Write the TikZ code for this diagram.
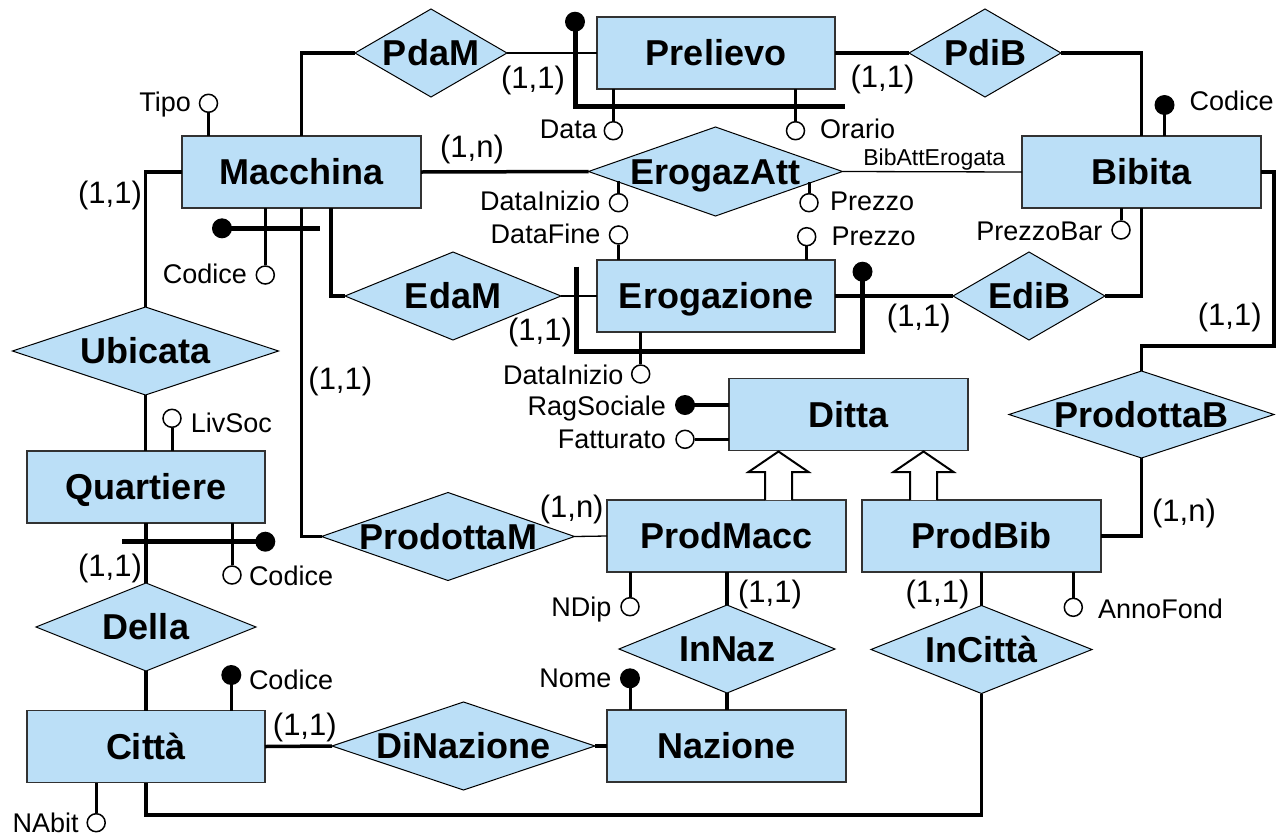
\documentclass[tikz,border=0pt]{standalone}
\usepackage{fontspec}
\setmainfont{Liberation Sans}
\usetikzlibrary{shapes.geometric}
\definecolor{erblue}{RGB}{187,223,247}
\definecolor{edgegray}{RGB}{50,50,50}
\newcommand\ctext[1]{\smash{\makebox[0pt]{\raisebox{-0.358em}{#1}}}}
\begin{document}
\begin{tikzpicture}[x=1pt,y=-1pt,
  ent/.style={rectangle,draw=edgegray,line width=1.5pt,fill=erblue,minimum width=238pt,minimum height=72pt,inner sep=0pt,outer sep=0pt,font=\fontsize{36}{40}\selectfont\bfseries},
  rel/.style={diamond,draw=black,line width=1pt,fill=erblue,inner sep=0pt,outer sep=0pt,font=\fontsize{36}{40}\selectfont\bfseries},
  conn/.style={line width=3.5pt},
  thinc/.style={line width=1.3pt},
  stem/.style={line width=3pt},
  idbar/.style={line width=5pt,line join=miter},
  acirc/.style={circle,draw=black,line width=1.5pt,fill=white,minimum size=18pt,inner sep=0pt},
  kdot/.style={circle,fill=black,minimum size=20pt,inner sep=0pt},
  att/.style={inner sep=0pt,font=\fontsize{27}{30}\selectfont},
  card/.style={inner sep=0pt,font=\fontsize{31}{34}\selectfont},
  isa/.style={draw=black,line width=2pt,fill=white,line join=miter}]
\useasboundingbox (0,0) rectangle (1288,836);

% ---------- entities ----------
\node[ent] (Prelievo) at (716,53) {\ctext{Prelievo}};
\node[ent,minimum width=239pt] (Macchina) at (301.5,172) {\ctext{Macchina}};
\node[ent,minimum width=239pt] (Bibita) at (1141.5,172) {\ctext{Bibita}};
\node[ent] (Erogazione) at (716,296) {\ctext{Erogazione}};
\node[ent,minimum width=239pt] (Ditta) at (848.5,414.5) {\ctext{Ditta}};
\node[ent] (Quartiere) at (146,487) {\ctext{Quartiere}};
\node[ent,minimum width=239pt] (ProdMacc) at (726.5,536) {\ctext{ProdMacc}};
\node[ent,minimum width=239pt] (ProdBib) at (981.5,536) {\ctext{ProdBib}};
\node[ent] (Citta) at (146,746.5) {\ctext{Città}};
\node[ent,minimum width=239pt] (Nazione) at (726.5,746) {\ctext{Nazione}};

% ---------- relationships ----------
\node[rel,minimum width=152pt,minimum height=88pt] (PdaM) at (431,53) {\ctext{PdaM}};
\node[rel,minimum width=152pt,minimum height=88pt] (PdiB) at (985,53) {\ctext{PdiB}};
\node[rel,minimum width=254pt,minimum height=89pt] (ErogazAtt) at (715.5,171.5) {\ctext{ErogazAtt}};
\node[rel,minimum width=216pt,minimum height=88pt] (EdaM) at (453,296) {\ctext{EdaM}};
\node[rel,minimum width=152pt,minimum height=88pt] (EdiB) at (1029,296) {\ctext{EdiB}};
\node[rel,minimum width=266pt,minimum height=88pt] (Ubicata) at (145.5,351) {\ctext{Ubicata}};
\node[rel,minimum width=265pt,minimum height=87pt] (ProdottaB) at (1141.5,414.5) {\ctext{ProdottaB}};
\node[rel,minimum width=253pt,minimum height=88pt] (ProdottaM) at (448,536.5) {\ctext{ProdottaM}};
\node[rel,minimum width=220pt,minimum height=88pt] (Della) at (146,627) {\ctext{Della}};
\node[rel,minimum width=216pt,minimum height=88pt] (InNaz) at (727,649) {\ctext{InNaz}};
\node[rel,minimum width=221pt,minimum height=88pt] (InCitta) at (981.5,649.5) {\ctext{InCittà}};
\node[rel,minimum width=263pt,minimum height=88pt] (DiNazione) at (463.5,746) {\ctext{DiNazione}};

% ---------- connectors ----------
\draw[conn] (Macchina.north) |- (PdaM.west);
\draw[thinc] (PdaM.east) -- (Prelievo.west);
\draw[conn] (Prelievo.east) -- (PdiB.west);
\draw[conn] (PdiB.east) -| (Bibita.north);
\draw[conn] (Macchina.east) -- (ErogazAtt.west);
\draw[thinc] (ErogazAtt.east) -- (Bibita.west);
\draw[conn] ([xshift=29.5pt]Macchina.south) |- (EdaM.west);
\draw[thinc] (EdaM.east) -- (Erogazione.west);
\draw[conn] (Erogazione.east) -- (EdiB.west);
\draw[conn] (EdiB.east) -| (Bibita.south);
\coordinate (bbR) at (1274,346);
\draw[conn] (Bibita.east) -| (bbR) -| (ProdottaB.north);
\draw[conn] (ProdottaB.south) |- (ProdBib.east);
\draw[conn] (Macchina.south) |- (ProdottaM.west);
\draw[thinc] (ProdottaM.east) -- (ProdMacc.west);
\draw[conn] (Macchina.west) -| (Ubicata.north);
\draw[conn] (Ubicata.south) -- (Ubicata.south |- Quartiere.north);
\draw[conn] (Quartiere.south) -- (Della.north);
\draw[conn] (Della.south) -- (Citta.north);
\draw[conn] (Citta.east) -- (DiNazione.west);
\draw[conn] (DiNazione.east) -- (Nazione.west);
\draw[conn] (ProdMacc.south -| InNaz.north) -- (InNaz.north);
\draw[conn] (InNaz.south) -- (InNaz.south |- Nazione.north);
\draw[conn] (ProdBib.south -| InCitta.north) -- (InCitta.north);
\coordinate (loopR) at (981.5,815);
\draw[conn] (InCitta.south) -- (loopR) -| (Citta.south);

% ---------- generalisations ----------
\foreach \cx in {778.5,923.5}{
  \draw[isa] ({\cx-13.5},500) -- ({\cx-13.5},472) -- ({\cx-30},472) -- (\cx,451.5)
     -- ({\cx+30},472) -- ({\cx+13.5},472) -- ({\cx+13.5},500);
}

% ---------- identifiers ----------
\node[kdot] (prelK) at (575,21.7) {};
\coordinate (prelB) at (575,106);
\coordinate (prelE) at (845,106);
\draw[idbar] (prelK.center) -- (prelB) -- (prelE);

\node[kdot] (macK) at (222,228.3) {};
\coordinate (macE) at (320,228.3);
\draw[idbar] (macK.center) -- (macE);

\node[kdot] (eroK) at (862.5,271.7) {};
\coordinate (eroA) at (576.5,266.5);
\coordinate (eroB) at (576.5,351.5);
\coordinate (eroC) at (862.5,351.5);
\draw[idbar] (eroA) -- (eroB) -- (eroC) -- (eroK.center);

\coordinate (quA) at (122,541.7);
\node[kdot] (quK) at (265.3,541.7) {};
\draw[idbar] (quA) -- (quK.center);

% ---------- attributes ----------
% Macchina
\node[acirc] (tipoC) at (208.5,103.3) {};
\node[att,anchor=base east] (tipoL) at (191,111) {Tipo};
\draw[stem] (tipoC.south) -- (tipoC |- Macchina.north);
\node[acirc] (mcodC) at (265.3,275) {};
\node[att,anchor=base east] (mcodL) at (247,283) {Codice};
\draw[stem] (mcodC.north) -- (mcodC |- Macchina.south);
% Prelievo
\node[acirc] (dataC) at (613.3,130.7) {};
\node[att,anchor=base east] (dataL) at (597,138.5) {Data};
\draw[stem] (dataC.north) -- (dataC |- Prelievo.south);
\node[acirc] (oraC) at (795.5,130.7) {};
\node[att,anchor=base west] (oraL) at (820,138.5) {Orario};
\draw[stem] (oraC.north) -- (oraC |- Prelievo.south);
% ErogazAtt
\node[acirc] (diC) at (618.5,202.7) {};
\node[att,anchor=base east] (diL) at (600.5,210.5) {DataInizio};
\draw[stem] (diC.north) -- ++(0,-12);
\node[acirc] (pzC) at (809,202.7) {};
\node[att,anchor=base west] (pzL) at (830,210.5) {Prezzo};
\draw[stem] (pzC.north) -- ++(0,-11);
% Erogazione
\node[acirc] (dfC) at (618.5,235) {};
\node[att,anchor=base east] (dfL) at (600.5,243) {DataFine};
\draw[stem] (dfC.south) -- (dfC |- Erogazione.north);
\node[acirc] (pz2C) at (806.7,236.7) {};
\node[att,anchor=base west] (pz2L) at (831.5,245) {Prezzo};
\draw[stem] (pz2C.south) -- (pz2C |- Erogazione.north);
\node[acirc] (di2C) at (640.7,374) {};
\node[att,anchor=base east] (di2L) at (623.5,384) {DataInizio};
\draw[stem] (di2C.north) -- (di2C |- Erogazione.south);
% Bibita
\node[kdot] (bibK) at (1164.5,105) {};
\node[att,anchor=base west] (bibL) at (1189.5,110.5) {Codice};
\draw[stem] (bibK.center) -- (bibK |- Bibita.north);
\node[acirc] (pbC) at (1121,230) {};
\node[att,anchor=base east] (pbL) at (1102.5,240) {PrezzoBar};
\draw[stem] (pbC.north) -- (pbC |- Bibita.south);
% Ditta
\node[kdot] (ragK) at (685,405) {};
\node[att,anchor=base east] (ragL) at (666,415) {RagSociale};
\draw[conn] (ragK.center) -- (ragK -| Ditta.west);
\node[acirc] (fatC) at (685,439.3) {};
\node[att,anchor=base east] (fatL) at (666,448) {Fatturato};
\draw[conn] (fatC.east) -- (fatC -| Ditta.west);
% Quartiere
\node[acirc] (lsC) at (172,418.3) {};
\node[att,anchor=base west] (lsL) at (190.7,432) {LivSoc};
\draw[stem] (lsC.south) -- (lsC |- Quartiere.north);
\node[acirc] (qcC) at (232,575) {};
\node[att,anchor=base west] (qcL) at (248.8,585) {Codice};
\draw[stem] (qcC.north) -- (qcC |- Quartiere.south);
% Citta
\node[kdot] (ccK) at (231.3,675) {};
\node[att,anchor=base west] (ccL) at (248.8,689) {Codice};
\draw[stem] (ccK.center) -- (ccK |- Citta.north);
\node[acirc] (naC) at (96.2,822.7) {};
\node[att,anchor=base east] (naL) at (78.8,832) {NAbit};
\draw[stem] (naC.north) -- (naC |- Citta.south);
% ProdMacc
\node[acirc] (ndC) at (630,606.7) {};
\node[att,anchor=base east] (ndL) at (611.7,616.5) {NDip};
\draw[stem] (ndC.north) -- (ndC |- ProdMacc.south);
% Nazione
\node[kdot] (nmK) at (630,678.3) {};
\node[att,anchor=base east] (nmL) at (611.7,687) {Nome};
\draw[stem] (nmK.center) -- (nmK |- Nazione.north);
% ProdBib
\node[acirc] (afC) at (1073.3,607.3) {};
\node[att,anchor=base west] (afL) at (1098,618) {AnnoFond};
\draw[stem] (afC.north) -- (afC |- ProdBib.south);

% ---------- relationship label ----------
\node[inner sep=0pt,font=\fontsize{23}{26}\selectfont,anchor=base] (bibAtt) at (934.3,165.5) {BibAttErogata};

% ---------- cardinalities ----------
\node[card] (c1) at (533,80) {(1,1)};
\node[card] (c2) at (882.5,79) {(1,1)};
\node[card] (c3) at (472,149) {(1,n)};
\node[card] (c4) at (110,195) {(1,1)};
\node[card] (c5) at (540,332) {(1,1)};
\node[card] (c6) at (918.8,318) {(1,1)};
\node[card] (c7) at (1229.7,317) {(1,1)};
\node[card] (c8) at (340.3,381.7) {(1,1)};
\node[card] (c9) at (571.7,509) {(1,n)};
\node[card] (c10) at (1184,513) {(1,n)};
\node[card] (c11) at (770,594) {(1,1)};
\node[card] (c12) at (937.5,594) {(1,1)};
\node[card] (c13) at (110,568) {(1,1)};
\node[card] (c14) at (304.8,727) {(1,1)};
\end{tikzpicture}
\end{document}
